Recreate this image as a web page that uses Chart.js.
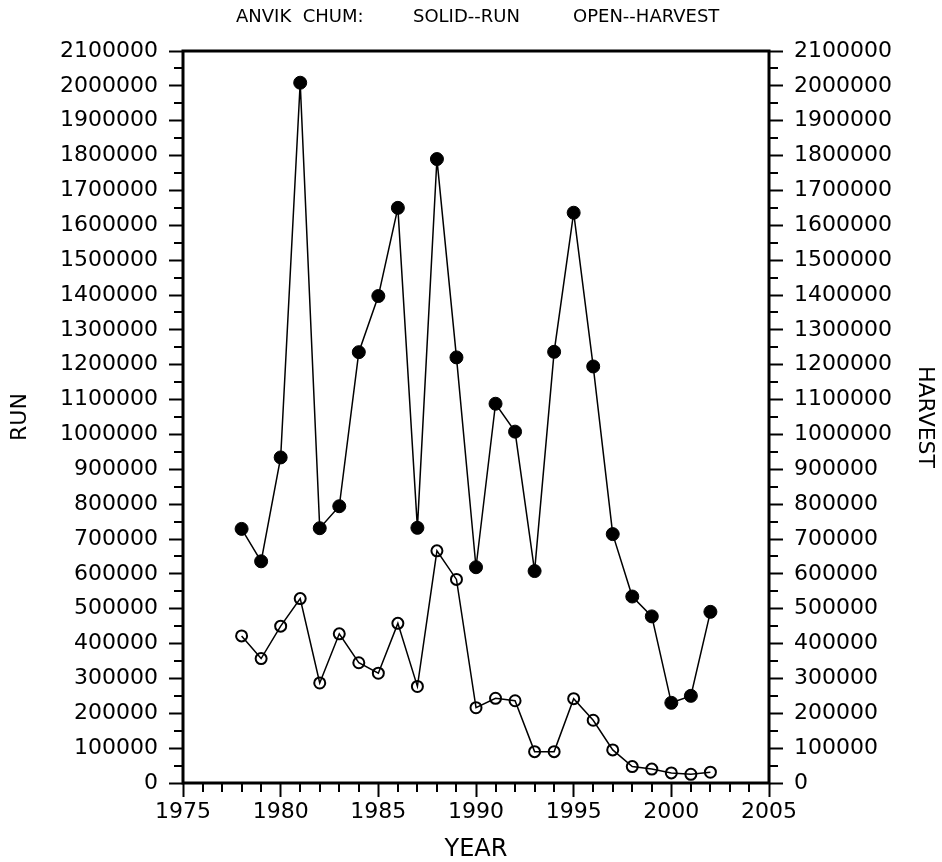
<!DOCTYPE html>
<html>
<head>
<meta charset="utf-8">
<script src="https://cdn.jsdelivr.net/npm/chart.js@4"></script>
<style>
  html, body { margin: 0; padding: 0; background: #fff; }
  #wrap { width: 942px; height: 862px; }
</style>
</head>
<body>
<div id="wrap"><canvas id="chart" width="942" height="862"></canvas></div>
<script>
// Anvik chum: run (solid) and harvest (open)
const years = [1978, 1979, 1980, 1981, 1982, 1983, 1984, 1985, 1986, 1987, 1988, 1989, 1990,
               1991, 1992, 1993, 1994, 1995, 1996, 1997, 1998, 1999, 2000, 2001, 2002];
const runValues = [729000, 636000, 934000, 2009000, 731000, 794000, 1236000, 1397000, 1650000, 732000,
                   1790000, 1221000, 619000, 1088000, 1008000, 608000, 1237000, 1636000, 1195000, 714000,
                   535000, 478000, 230000, 250000, 491000];
const harvestValues = [422000, 357000, 450000, 529000, 287000, 428000, 345000, 315000, 458000, 277000,
                       666000, 584000, 216000, 243000, 236000, 90000, 90000, 242000, 180000, 95000,
                       47000, 40000, 29000, 25000, 31000];

const titleParts = ['ANVIK  CHUM:', 'SOLID--RUN', 'OPEN--HARVEST'];
const yTickLabels = ['0', '100000', '200000', '300000', '400000', '500000', '600000', '700000',
  '800000', '900000', '1000000', '1100000', '1200000', '1300000', '1400000', '1500000',
  '1600000', '1700000', '1800000', '1900000', '2000000', '2100000'];
const xTickLabels = ['1975', '1980', '1985', '1990', '1995', '2000', '2005'];

const FONT = "'DejaVu Sans', sans-serif";

// Frame, minor ticks and the header line
const decorations = {
    id: 'decorations',
    afterDraw(chart) {
        const ctx = chart.ctx;
        const a = chart.chartArea;
        const xs = chart.scales.x;
        const yl = chart.scales.y;
        ctx.save();
        ctx.strokeStyle = '#000';

        // minor ticks
        ctx.lineWidth = 2;
        ctx.beginPath();
        for (let yr = 1975; yr <= 2005; yr++) {
            if (yr % 5 === 0) continue;
            const px = Math.round(xs.getPixelForValue(yr));
            ctx.moveTo(px, a.bottom);
            ctx.lineTo(px, a.bottom + 9);
        }
        for (let v = 50000; v < 2100000; v += 100000) {
            const py = Math.round(yl.getPixelForValue(v));
            ctx.moveTo(a.left, py);
            ctx.lineTo(a.left - 9, py);
            ctx.moveTo(a.right, py);
            ctx.lineTo(a.right + 9, py);
        }
        ctx.stroke();

        // frame
        ctx.lineWidth = 3;
        ctx.strokeRect(a.left, a.top, a.right - a.left, a.bottom - a.top);

        // header
        ctx.fillStyle = '#000';
        ctx.font = '18px ' + FONT;
        ctx.textBaseline = 'middle';
        ctx.textAlign = 'left';
        const starts = [236, 413, 573];
        titleParts.forEach((t, i) => ctx.fillText(t, starts[i], 17));
        ctx.restore();
    }
};

const runData = years.map((yr, i) => ({ x: yr, y: runValues[i] }));
const harvestData = years.map((yr, i) => ({ x: yr, y: harvestValues[i] }));

const tickFont = { family: FONT, size: 22 };

new Chart(document.getElementById('chart'), {
    type: 'line',
    data: {
        datasets: [
            {
                label: 'RUN',
                data: runData,
                borderColor: '#000',
                borderWidth: 1.5,
                pointRadius: 6.5,
                pointBackgroundColor: '#000',
                pointBorderColor: '#000',
                pointBorderWidth: 1,
                tension: 0,
                yAxisID: 'y'
            },
            {
                label: 'HARVEST',
                data: harvestData,
                borderColor: '#000',
                borderWidth: 1.5,
                pointRadius: 5.5,
                pointBackgroundColor: 'rgba(0,0,0,0)',
                pointBorderColor: '#000',
                pointBorderWidth: 2,
                tension: 0,
                yAxisID: 'y'
            }
        ]
    },
    options: {
        responsive: false,
        animation: false,
        layout: { padding: { top: 51, left: 0, right: 0, bottom: 0 } },
        plugins: {
            legend: { display: false },
            tooltip: { enabled: false }
        },
        scales: {
            x: {
                type: 'linear',
                min: 1975,
                max: 2005,
                afterFit(scale) { scale.height = 79; },
                border: { display: false },
                grid: { drawOnChartArea: false, tickLength: 14, tickWidth: 2, tickColor: '#000' },
                ticks: {
                    stepSize: 5,
                    autoSkip: false,
                    padding: 2,
                    color: '#000',
                    font: tickFont,
                    callback: (v) => xTickLabels[(v - 1975) / 5]
                },
                title: {
                    display: true,
                    text: 'YEAR',
                    color: '#000',
                    font: { family: FONT, size: 24, lineHeight: 1 },
                    padding: { top: 0, bottom: 0 }
                }
            },
            y: {
                position: 'left',
                min: 0,
                max: 2100000,
                afterFit(scale) { scale.width = 183; },
                border: { display: false },
                grid: { drawOnChartArea: false, tickLength: 14, tickWidth: 2, tickColor: '#000' },
                ticks: {
                    stepSize: 100000,
                    maxTicksLimit: 30,
                    autoSkip: false,
                    padding: 11,
                    color: '#000',
                    font: tickFont,
                    callback: (v) => yTickLabels[Math.round(v / 100000)]
                },
                title: {
                    display: true,
                    text: 'RUN',
                    color: '#000',
                    font: { family: FONT, size: 22, lineHeight: 1 },
                    padding: { top: 9, bottom: 0 }
                }
            },
            y2: {
                position: 'right',
                min: 0,
                max: 2100000,
                afterFit(scale) { scale.width = 173; },
                border: { display: false },
                grid: { drawOnChartArea: false, tickLength: 14, tickWidth: 2, tickColor: '#000' },
                ticks: {
                    stepSize: 100000,
                    maxTicksLimit: 30,
                    autoSkip: false,
                    padding: 11,
                    color: '#000',
                    font: tickFont,
                    callback: (v) => yTickLabels[Math.round(v / 100000)]
                },
                title: {
                    display: true,
                    text: 'HARVEST',
                    color: '#000',
                    font: { family: FONT, size: 22, lineHeight: 1 },
                    padding: { top: 6, bottom: 0 }
                }
            }
        }
    },
    plugins: [decorations]
});
</script>
</body>
</html>
